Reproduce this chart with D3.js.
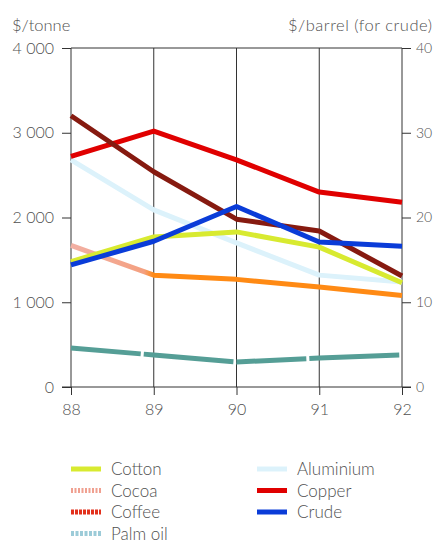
<!DOCTYPE html>
<html>
<head>
<meta charset="utf-8">
<script src="https://cdn.jsdelivr.net/npm/d3@7"></script>
<style>
  body { margin: 0; background: #fff; overflow: hidden; }
  svg text { font-family: Lato, "Open Sans", sans-serif; font-weight: 300; fill: #505050; }
</style>
</head>
<body>
<svg id="chart" width="435" height="546"></svg>
<script>
// Commodity prices, 1988-92
const years = [88, 89, 90, 91, 92];
const leftTicks = [0, 1000, 2000, 3000, 4000];
const rightTicks = [0, 10, 20, 30, 40];

const cotton    = [1480, 1770, 1830, 1650, 1230];
const cocoa     = [1670, 1320, 1270, 1180, 1080];
const coffee    = [3200, 2540, 1980, 1840, 1310];
const palmOil   = [460, 378, 295, 342, 378];
const aluminium = [2680, 2090, 1700, 1320, 1240];
const copper    = [2720, 3020, 2680, 2300, 2180];
const crude     = [14.4, 17.2, 21.3, 17.1, 16.6];   // $/barrel, right axis

const series = [
  { name: "Cotton",    values: cotton,    axis: "left",  color: "#d8ea30", dash: null, legendCol: 0 },
  { name: "Cocoa",     values: cocoa,     axis: "left",  color: "url(#cocoaGrad)", legendColor: "#f0a090", legendDash: "2 1.5", dash: null, legendCol: 0 },
  { name: "Coffee",    values: coffee,    axis: "left",  color: "#861a10", legendColor: "#e2301c", legendDash: "3 1", dash: null, legendCol: 0 },
  { name: "Palm oil",  values: palmOil,   axis: "left",  color: "#559e96", legendColor: "#9ccbd8", legendDash: "3 1.5", dash: "70 3 90 3", legendCol: 0 },
  { name: "Aluminium", values: aluminium, axis: "left",  color: "#dcf2fb", dash: null, legendCol: 1 },
  { name: "Copper",    values: copper,    axis: "left",  color: "#e00000", dash: null, legendCol: 1 },
  { name: "Crude",     values: crude,     axis: "right", color: "#0a3cd8", dash: null, legendCol: 1 }
];
// draw order (back to front)
const drawOrder = ["Aluminium", "Palm oil", "Cocoa", "Cotton", "Copper", "Coffee", "Crude"];

const svg = d3.select("#chart");
const x = d3.scaleLinear().domain([88, 92]).range([71, 402]);
const yL = d3.scaleLinear().domain([0, 4000]).range([387, 48]);
const yR = d3.scaleLinear().domain([0, 40]).range([387, 48]);

const defs = svg.append("defs");
const grad = defs.append("linearGradient")
  .attr("id", "cocoaGrad").attr("gradientUnits", "userSpaceOnUse")
  .attr("x1", x(88)).attr("x2", x(92)).attr("y1", 0).attr("y2", 0);
grad.append("stop").attr("offset", "0%").attr("stop-color", "#f2b0a4");
grad.append("stop").attr("offset", "22%").attr("stop-color", "#f4a080");
grad.append("stop").attr("offset", "25%").attr("stop-color", "#ff8a14");
grad.append("stop").attr("offset", "100%").attr("stop-color", "#ff8a14");

// grid: vertical year lines and top line
const grid = svg.append("g").attr("stroke", "#333").attr("stroke-width", 1);
grid.selectAll("line.v").data(years).join("line")
  .attr("x1", d => x(d)).attr("x2", d => x(d))
  .attr("y1", yL(4000)).attr("y2", yL(0));
grid.append("line").attr("x1", x(88)).attr("x2", x(92))
  .attr("y1", yL(4000)).attr("y2", yL(4000));

const styleAxisText = (g, size) => g.selectAll("text")
  .attr("font-size", size).attr("fill", "#505050")
  .style("font-family", "Lato, sans-serif").style("font-weight", 300);

// left axis
const axL = svg.append("g").attr("transform", `translate(${x(88)},0)`)
  .call(d3.axisLeft(yL).tickValues(leftTicks).tickSize(9).tickPadding(8)
    .tickFormat(d => d === 0 ? "0" : (d / 1000) + " 000"));
axL.select(".domain").remove();
axL.selectAll("line").attr("stroke", "#333");
styleAxisText(axL, 16);

// right axis
const axR = svg.append("g").attr("transform", `translate(${x(92)},0)`)
  .call(d3.axisRight(yR).tickValues(rightTicks).tickSize(9).tickPadding(5));
axR.select(".domain").remove();
axR.selectAll("line").attr("stroke", "#333");
styleAxisText(axR, 14);

// bottom axis
const axB = svg.append("g").attr("transform", `translate(0,${yL(0)})`)
  .call(d3.axisBottom(x).tickValues(years).tickSize(8).tickPadding(9).tickFormat(d => d));
axB.select(".domain").attr("stroke", "#333").attr("d", `M${x(88) - 9},0H${x(92) + 9}`);
axB.selectAll("line").attr("stroke", "#333");
styleAxisText(axB, 16);

// axis titles
svg.append("text").attr("x", 12).attr("y", 31).attr("font-size", 16.5).text("$/tonne");
svg.append("text").attr("x", 432).attr("y", 31).attr("font-size", 16.5)
  .attr("text-anchor", "end").attr("textLength", 144).text("$/barrel (for crude)");

// lines
const lineFor = s => d3.line()
  .x((d, i) => x(years[i]))
  .y(d => s.axis === "left" ? yL(d) : yR(d));

const byName = Object.fromEntries(series.map(s => [s.name, s]));
const gLines = svg.append("g").attr("fill", "none");
drawOrder.map(n => byName[n]).forEach(s => {
  gLines.append("path")
    .attr("d", lineFor(s)(s.values))
    .attr("stroke", s.color)
    .attr("stroke-width", 5)
    .attr("stroke-dasharray", s.dash)
    .attr("stroke-linejoin", "round");
});

// legend
const legend = svg.append("g");
series.forEach(s => {
  const idx = series.filter(t => t.legendCol === s.legendCol).indexOf(s);
  const lx = s.legendCol === 0 ? 71 : 257;
  const ly = 469 + idx * 21.5;
  legend.append("line")
    .attr("x1", lx).attr("x2", lx + 30).attr("y1", ly).attr("y2", ly)
    .attr("stroke", s.legendColor || s.color)
    .attr("stroke-width", 5)
    .attr("stroke-dasharray", s.legendDash || null);
  legend.append("text").attr("x", lx + 40).attr("y", ly + 6)
    .attr("font-size", 17).text(s.name);
});
</script>
</body>
</html>
